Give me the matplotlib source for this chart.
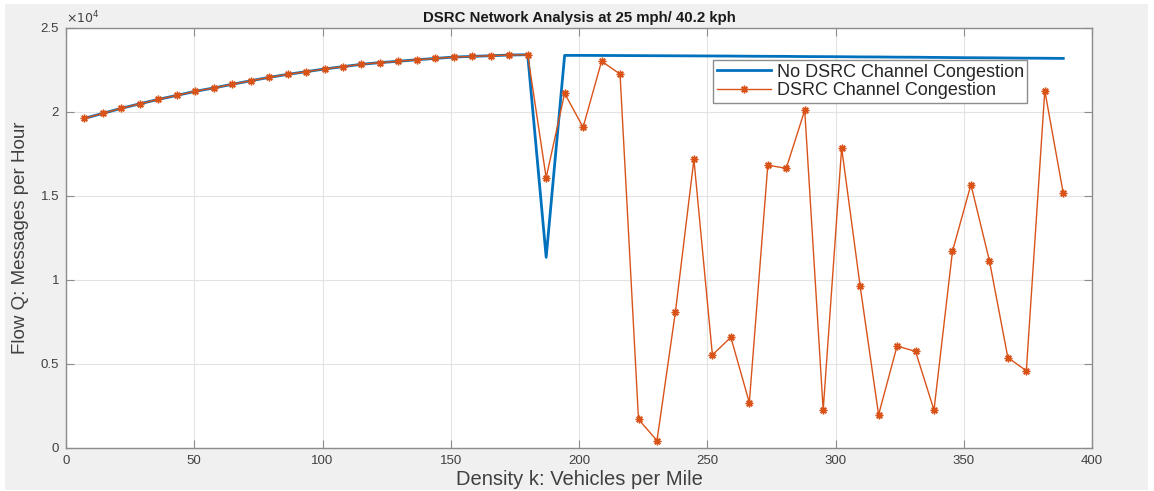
import numpy as np
import matplotlib
matplotlib.use("Agg")
import matplotlib.pyplot as plt
from matplotlib.patches import Rectangle
from matplotlib.ticker import FuncFormatter, MultipleLocator

# Density (vehicles per mile), sampled every 7.2 vehicles
density = [7.2 * i for i in range(1, 55)]

# Flow without channel congestion (messages per hour)
flow_no_congestion = [
    19620, 19920, 20220, 20490, 20750, 20990, 21230, 21430, 21650, 21860,
    22060, 22240, 22400, 22560, 22700, 22840, 22940, 23020, 23110, 23190,
    23270, 23310, 23350, 23390, 23410, 11350, 23370, 23370, 23365, 23360,
    23355, 23350, 23345, 23340, 23335, 23330, 23320, 23315, 23310, 23300,
    23295, 23290, 23280, 23275, 23265, 23260, 23250, 23240, 23230, 23225,
    23215, 23205, 23200, 23190,
]

# Flow with channel congestion (messages per hour)
flow_congestion = [
    19620, 19920, 20220, 20490, 20750, 20990, 21230, 21430, 21650, 21860,
    22060, 22240, 22400, 22560, 22700, 22840, 22940, 23020, 23110, 23190,
    23270, 23310, 23350, 23390, 23410, 16090, 21110, 19090, 23020, 22260,
    1710, 440, 8110, 17180, 5540, 6590, 2700, 16830, 16650, 20100,
    2260, 17860, 9640, 1980, 6070, 5750, 2260, 11710, 15680, 11150,
    5380, 4600, 21270, 15160,
]

series_labels = ["No DSRC Channel Congestion", "DSRC Channel Congestion"]

plt.rcParams["font.family"] = ["Liberation Sans", "DejaVu Sans"]

W, H = 1154, 491
fig = plt.figure(figsize=(W / 100, H / 100), dpi=100, facecolor="white")
# grey window background inside a thin white border
fig.patches.append(Rectangle((5 / W, 1 / H), (1148 - 5) / W, (487 - 1) / H,
                             transform=fig.transFigure, facecolor="#F0F0F0",
                             edgecolor="none", zorder=-10))

ax = fig.add_axes([66 / W, 1 - 448 / H, (1092 - 66) / W, (448 - 28) / H])
ax.set_facecolor("white")

ax.plot(density, flow_no_congestion, color="#0072BD", lw=2.0,
        label=series_labels[0], zorder=3)
ax.plot(density, flow_congestion, color="#D95319", lw=1.0,
        marker=(8, 2, 0), markersize=5.5, markeredgewidth=1.0,
        markeredgecolor="#D95319", label=series_labels[1], zorder=4)

ax.set_xlim(0, 400)
ax.set_ylim(0, 25000)
ax.xaxis.set_major_locator(MultipleLocator(50))
ax.yaxis.set_major_locator(MultipleLocator(5000))
ax.yaxis.set_major_formatter(FuncFormatter(lambda v, p: f"{v / 1e4:g}"))
ax.text(0.0, 1.004, r"$\times10^{4}$", transform=ax.transAxes, ha="left",
        va="bottom", fontsize=9, color="#404040")

ax.grid(True, color="#E3E3E3", lw=0.8)
ax.set_axisbelow(True)
for s in ax.spines.values():
    s.set_color("#8C8C8C")
    s.set_linewidth(1.0)
ax.tick_params(direction="in", top=True, right=True, length=6,
               color="#8C8C8C", labelcolor="#404040", labelsize=9.5, pad=5)

ax.set_title("DSRC Network Analysis at 25 mph/ 40.2 kph", fontsize=10.8,
             fontweight="bold", color="#1A1A1A", pad=4)
ax.set_xlabel("Density k: Vehicles per Mile", fontsize=14.5, color="#404040",
              labelpad=2)
ax.set_ylabel("Flow Q: Messages per Hour", fontsize=13.5, color="#404040",
              labelpad=8)

leg = ax.legend(loc="upper right", bbox_to_anchor=(0.937, 0.924),
                borderaxespad=0, fontsize=13, fancybox=False,
                edgecolor="#8C8C8C", framealpha=1, handlelength=3.0,
                borderpad=0.2, labelspacing=0.1, handletextpad=0.3)
leg.get_frame().set_linewidth(1.0)
for t in leg.get_texts():
    t.set_color("#262626")

fig.savefig("out.png", dpi=100, facecolor=fig.get_facecolor())
